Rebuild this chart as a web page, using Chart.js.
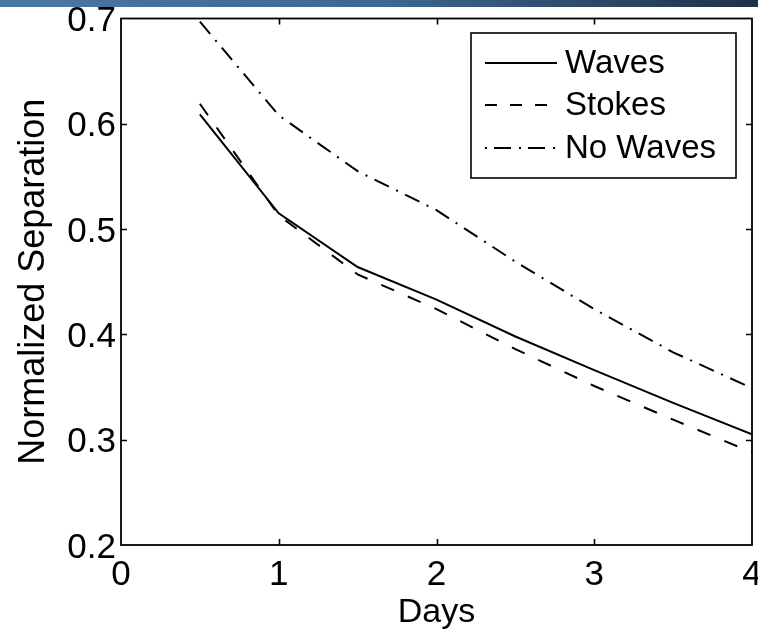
<!DOCTYPE html>
<html>
<head>
<meta charset="utf-8">
<style>
html,body{margin:0;padding:0;background:#fff;overflow:hidden;}
canvas{display:block;}
</style>
<script src="https://cdn.jsdelivr.net/npm/chart.js@4.4.1/dist/chart.umd.min.js"></script>
</head>
<body>
<canvas id="c" width="758" height="634"></canvas>
<script>
const days = [0.5, 1, 1.5, 2, 2.5, 3, 3.5, 4];
const waves = [0.609, 0.515, 0.464, 0.433, 0.398, 0.366, 0.335, 0.305];
const stokes = [0.619, 0.513, 0.457, 0.424, 0.386, 0.351, 0.319, 0.288];
const noWaves = [0.697, 0.608, 0.555, 0.518, 0.469, 0.424, 0.383, 0.349];
const seriesNames = ['Waves', 'Stokes', 'No Waves'];
const xTickValues = [0, 1, 2, 3, 4];
const yTickValues = [0.2, 0.3, 0.4, 0.5, 0.6, 0.7];

const FONT = '"Liberation Sans", Arial, Helvetica, sans-serif';
const toPts = arr => arr.map((v, i) => ({x: days[i], y: v}));

const framePlugin = {
  id: 'frameTicks',
  afterDatasetsDraw(chart) {
    const ctx = chart.ctx, a = chart.chartArea;
    const xs = chart.scales.x, ys = chart.scales.y;
    ctx.save();
    ctx.strokeStyle = '#000';
    ctx.lineWidth = 1.6;
    ctx.setLineDash([]);
    ctx.beginPath();
    xTickValues.forEach(v => {
      const px = Math.round(xs.getPixelForValue(v)) + 0.5;
      if (v === xs.min || v === xs.max) return;
      ctx.moveTo(px, a.bottom); ctx.lineTo(px, a.bottom - 6);
      ctx.moveTo(px, a.top); ctx.lineTo(px, a.top + 6);
    });
    yTickValues.forEach(v => {
      const py = Math.round(ys.getPixelForValue(v)) + 0.5;
      if (v === ys.min || v === ys.max) return;
      ctx.moveTo(a.left, py); ctx.lineTo(a.left + 6, py);
      ctx.moveTo(a.right, py); ctx.lineTo(a.right - 6, py);
    });
    ctx.stroke();
    ctx.lineWidth = 1.8;
    ctx.strokeRect(a.left, a.top, a.right - a.left, a.bottom - a.top);

    // legend box
    const bx = a.right - 281, by = a.top + 14.5, bw = 265, bh = 145;
    ctx.fillStyle = '#fff';
    ctx.fillRect(bx, by, bw, bh);
    ctx.lineWidth = 1.6;
    ctx.strokeRect(bx, by, bw, bh);
    const rows = [30, 72, 115];
    const legendDash = [[], [12, 13], [2, 7, 17, 8]];
    chart.data.datasets.forEach((ds, i) => {
      const y = by + rows[i];
      ctx.save();
      ctx.strokeStyle = ds.borderColor;
      ctx.lineWidth = 2;
      ctx.setLineDash(legendDash[i]);
      ctx.beginPath();
      ctx.moveTo(bx + 14, y); ctx.lineTo(bx + 86, y);
      ctx.stroke();
      ctx.restore();
      ctx.fillStyle = '#000';
      ctx.font = '33px ' + FONT;
      ctx.textBaseline = 'middle';
      ctx.textAlign = 'left';
      ctx.fillText(ds.label, bx + 94, y + 1);
    });
    ctx.restore();
  },
  afterDraw(chart) {
    const ctx = chart.ctx;
    ctx.save();
    const g = ctx.createLinearGradient(0, 0, chart.width, 0);
    g.addColorStop(0, '#4a78a4');
    g.addColorStop(0.5, '#3e6892');
    g.addColorStop(1, '#1f3149');
    ctx.fillStyle = g;
    ctx.fillRect(0, 0, chart.width, 7);
    ctx.restore();
  }
};

new Chart(document.getElementById('c'), {
  type: 'line',
  data: {
    datasets: [
      {label: seriesNames[0], data: toPts(waves), borderColor: '#000', borderWidth: 2, borderDash: [], pointRadius: 0, tension: 0, fill: false},
      {label: seriesNames[1], data: toPts(stokes), borderColor: '#000', borderWidth: 2, borderDash: [14, 15], pointRadius: 0, tension: 0, fill: false},
      {label: seriesNames[2], data: toPts(noWaves), borderColor: '#000', borderWidth: 2, borderDash: [16, 8, 2, 8], pointRadius: 0, tension: 0, fill: false}
    ]
  },
  options: {
    responsive: false,
    animation: false,
    devicePixelRatio: 1,
    layout: {padding: {top: 18.5, right: 6, left: 0, bottom: 0}},
    plugins: {legend: {display: false}, tooltip: {enabled: false}},
    scales: {
      x: {
        type: 'linear', min: 0, max: 4,
        afterBuildTicks: s => { s.ticks = xTickValues.map(v => ({value: v})); },
        ticks: {font: {family: FONT, size: 35}, color: '#000', padding: 9, maxRotation: 0, autoSkip: false,
          callback: v => String(v)},
        grid: {display: false, drawTicks: false},
        border: {display: false},
        title: {display: true, text: 'Days', color: '#000', font: {family: FONT, size: 34}, padding: {top: 0, bottom: 1}},
        afterFit: s => { s.height = 89; s.paddingLeft = 0; s.paddingRight = 0; }
      },
      y: {
        type: 'linear', min: 0.2, max: 0.7,
        afterBuildTicks: s => { s.ticks = yTickValues.map(v => ({value: v})); },
        ticks: {font: {family: FONT, size: 35}, color: '#000', padding: 5, labelOffset: 3, autoSkip: false,
          callback: v => Number(v).toFixed(1)},
        grid: {display: false, drawTicks: false},
        border: {display: false},
        title: {display: true, text: 'Normalized Separation', color: '#000', font: {family: FONT, size: 36}, padding: {top: 12, bottom: 0}},
        afterFit: s => { s.width = 121; s.paddingTop = 0; s.paddingBottom = 0; }
      }
    }
  },
  plugins: [framePlugin]
});
</script>
</body>
</html>
